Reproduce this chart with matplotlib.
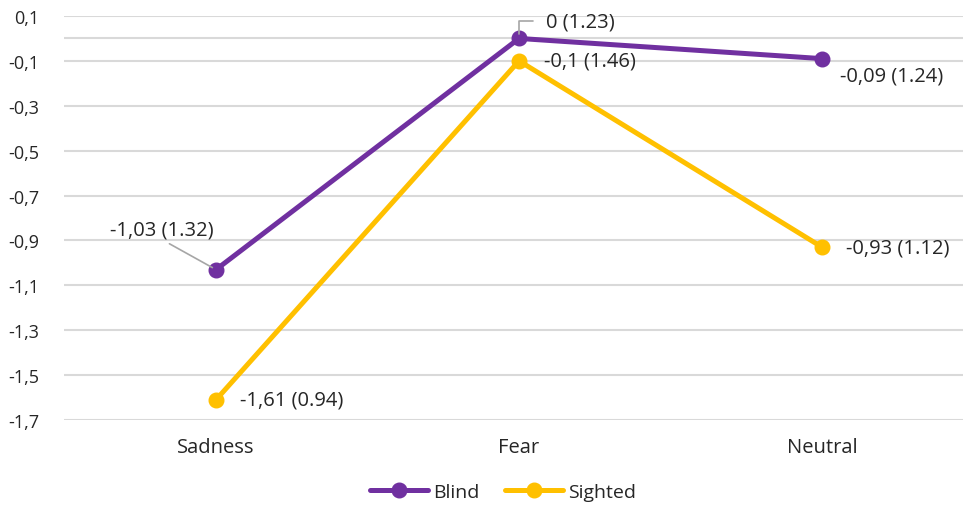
import matplotlib.pyplot as plt
import numpy as np

plt.rcParams['font.family'] = ['Open Sans', 'DejaVu Sans']

categories = ["Sadness", "Fear", "Neutral"]
blind = [-1.03, 0.0, -0.09]
sighted = [-1.61, -0.1, -0.93]
blind_labels = ["-1,03 (1.32)", "0 (1.23)", "-0,09 (1.24)"]
sighted_labels = ["-1,61 (0.94)", "-0,1 (1.46)", "-0,93 (1.12)"]
yticks = [0.1, -0.1, -0.3, -0.5, -0.7, -0.9, -1.1, -1.3, -1.5, -1.7]
ytick_labels = ["0,1", "-0,1", "-0,3", "-0,5", "-0,7", "-0,9", "-1,1", "-1,3", "-1,5", "-1,7"]

purple = "#7030A0"
yellow = "#FFC000"
grid = "#D9D9D9"
text_c = "#262626"

fig = plt.figure(figsize=(9.63, 5.06), dpi=100)
ax = fig.add_axes([64 / 963, 85 / 506, 899 / 963, 404 / 506])

x = np.arange(len(categories))
ax.plot(x, blind, color=purple, lw=3.6, marker="o", ms=10.5, label="Blind",
        solid_capstyle="round", zorder=3)
ax.plot(x, sighted, color=yellow, lw=3.6, marker="o", ms=10.5, label="Sighted",
        solid_capstyle="round", zorder=3)

ax.set_xlim(-0.5016, 2.465)
ax.set_ylim(-1.7, 0.1)
ax.set_yticks(yticks)
ax.set_yticklabels(ytick_labels)
ax.set_xticks(x)
ax.set_xticklabels(categories)
for y in yticks + [0.0]:
    ax.axhline(y, color=grid, lw=1.5, zorder=1)
for s in ax.spines.values():
    s.set_visible(False)
ax.tick_params(length=0, colors=text_c)
ax.tick_params(axis="y", pad=18, labelsize=13)
ax.tick_params(axis="x", pad=12, labelsize=14.5)

lead = dict(arrowstyle="-", color="#A6A6A6", lw=1.2, shrinkB=3)
fs = 14.5


def label(text, xy, off, arrow=None):
    ax.annotate(text, xy, xytext=off, textcoords="offset pixels",
                ha="center", va="center", fontsize=fs, color=text_c,
                arrowprops=arrow)


# Blind labels
label(blind_labels[0], (x[0], blind[0]), (-54, 40),
      dict(lead, shrinkA=2, relpos=(0.5, 0.0)))
label(blind_labels[1], (x[1], blind[1]), (61, 17),
      dict(lead, shrinkA=7, relpos=(0.0, 0.5),
           connectionstyle="angle,angleA=180,angleB=90,rad=0"))
label(blind_labels[2], (x[2], blind[2]), (70, -17))
# Sighted labels
label(sighted_labels[0], (x[0], sighted[0]), (76, 0))
label(sighted_labels[1], (x[1], sighted[1]), (71, 0))
label(sighted_labels[2], (x[2], sighted[2]), (76, 0))

fig.legend(loc="center", bbox_to_anchor=(503 / 963, 1 - 493 / 506), ncol=2, frameon=False,
           fontsize=14, handlelength=3, handletextpad=0.25, columnspacing=1.3,
           labelcolor=text_c)

fig.savefig("out.png", dpi=100)
